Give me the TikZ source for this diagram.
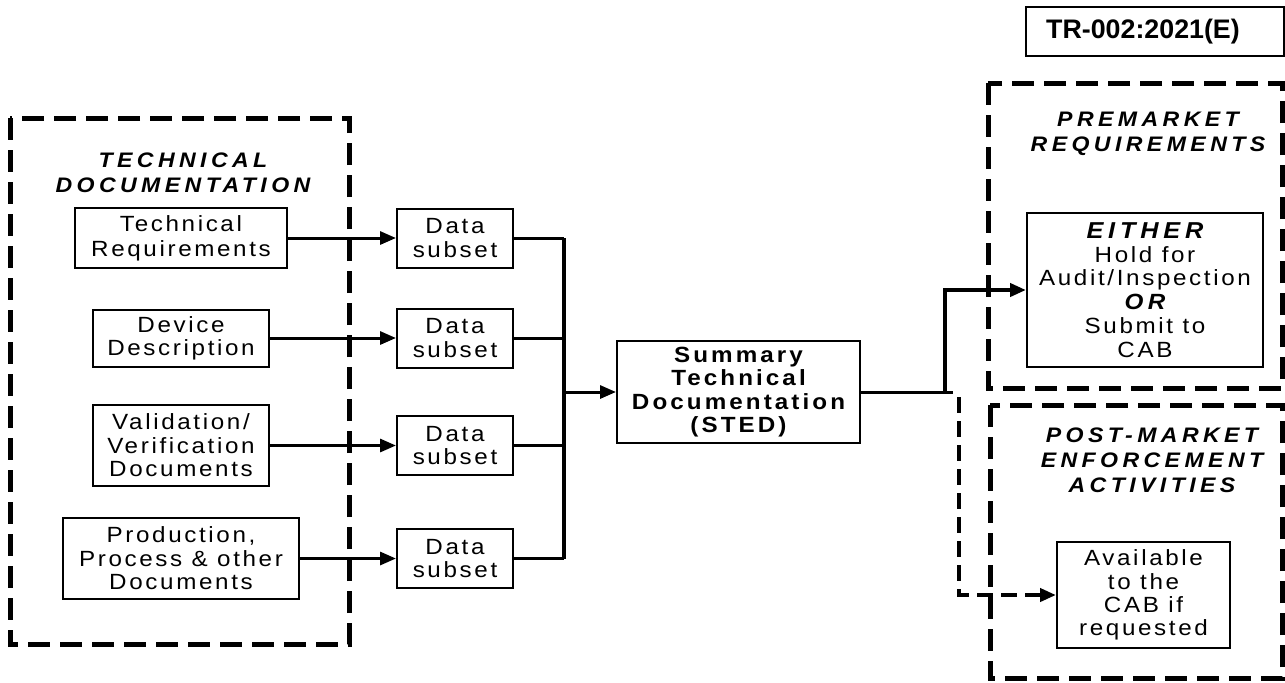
\documentclass[tikz,border=0pt]{standalone}
\usepackage{fontspec}
\setmainfont{Liberation Sans}[FakeStretch=1.1,LetterSpace=12]
\newfontfamily\strongfont{Liberation Sans}[FakeStretch=1.1,LetterSpace=14]
\newfontfamily\headfont{Liberation Sans}[FakeStretch=1.1,LetterSpace=21]
\newfontfamily\tagfont{Liberation Sans}
\usetikzlibrary{arrows.meta, calc}

\begin{document}
\begin{tikzpicture}[x=0.5pt,y=-0.5pt,font=\fontsize{11}{11.7}\selectfont,
    box/.style={draw,line width=1pt,inner sep=0pt,align=center},
    frame/.style={line width=2.5pt,dash pattern=on 11pt off 5pt},
    title/.style={align=center,font=\headfont\bfseries\itshape\fontsize{10.5}{12.5}\selectfont},
    link/.style={line width=1.5pt},
    arr/.style={link,-{Triangle[length=8pt,width=6.5pt]}},
    bus/.style={line width=2.4pt}]
    \useasboundingbox (0,0) rectangle (1285,682);

    % document tag
    \node[box,minimum width=129pt,minimum height=24.5pt,font=\tagfont\bfseries\fontsize{13.4}{15}\selectfont] (tag) at (1155,31.5) {TR-002:2021(E)\hspace{12pt}};

    % dashed groups
    \draw[frame] (10,118) rectangle (349,644);
    \draw[frame] (988,83) rectangle (1282,388);
    \draw[frame] (990,405) rectangle (1282,678);
    \node[title] (techdoc) at (183,173) {TECHNICAL\\DOCUMENTATION};
    \node[title] (premkt) at (1148,134) {PREMARKET\\REQUIREMENTS};
    \node[title] (postmkt) at (1152,460) {POST-MARKET\\ENFORCEMENT\\ACTIVITIES};

    % source documents
    \node[box,minimum width=106pt,minimum height=30pt,font=\fontsize{11}{12.4}\selectfont] (techreq) at (181,238) {Technical\\Requirements};
    \node[box,minimum width=88pt,minimum height=28.5pt] (devdesc) at (181,338) {Device\\Description};
    \node[box,minimum width=88pt,minimum height=40.5pt] (valver) at (181,445.5) {Validation/\\Verification\\Documents};
    \node[box,minimum width=118pt,minimum height=40.5pt] (proddoc) at (181,558.5) {Production,\\Process \& other\\Documents};

    % data subsets
    \foreach \n/\y in {1/238,2/338,3/445.5,4/558.5}
      \node[box,minimum width=58pt,minimum height=29.5pt] (sub\n) at (455,\y) {Data\\subset};

    \node[box,minimum width=121.5pt,minimum height=51pt,font=\strongfont\bfseries\fontsize{11}{11.7}\selectfont] (sted) at (738.5,392) {Summary\\Technical\\Documentation\\(STED)};

    \node[box,minimum width=118pt,minimum height=77pt,font=\fontsize{11}{11.9}\selectfont] (hold) at (1145,290)
      {{\headfont\bfseries\itshape\fontsize{11.5}{11.9}\selectfont EITHER}\\Hold for\\Audit/Inspection\\{\headfont\bfseries\itshape\fontsize{11}{11.9}\selectfont OR}\\Submit to\\CAB};
    \node[box,minimum width=86.5pt,minimum height=53pt] (avail) at (1143.5,595) {Available\\to the\\CAB if\\requested};

    % connectors
    \draw[arr] (techreq) -- (sub1);
    \draw[arr] (devdesc) -- (sub2);
    \draw[arr] (valver) -- (sub3);
    \draw[arr] (proddoc) -- (sub4);

    \coordinate (bustop) at (564,238);
    \coordinate (busbot) at (564,558.5);
    \coordinate (busmid) at (564,392);
    \foreach \n in {1,...,4}
      \draw[link] (sub\n.east) -- (sub\n.east -| bustop);
    \draw[bus] (bustop) -- (busbot);
    \draw[arr] (busmid) -- (sted);

    \coordinate (split) at (945,392);
    \coordinate (later) at (959,397);
    \draw[link] (sted.east) -- ($(split)+(8,0)$);
    \draw[bus,-{Triangle[length=8pt,width=6.5pt]}] (split) |- (hold.west);
    \draw[line width=2pt,dash pattern=on 8pt off 4pt,-{Triangle[length=8pt,width=6.5pt]}] (later) |- (avail.west);
\end{tikzpicture}
\end{document}
